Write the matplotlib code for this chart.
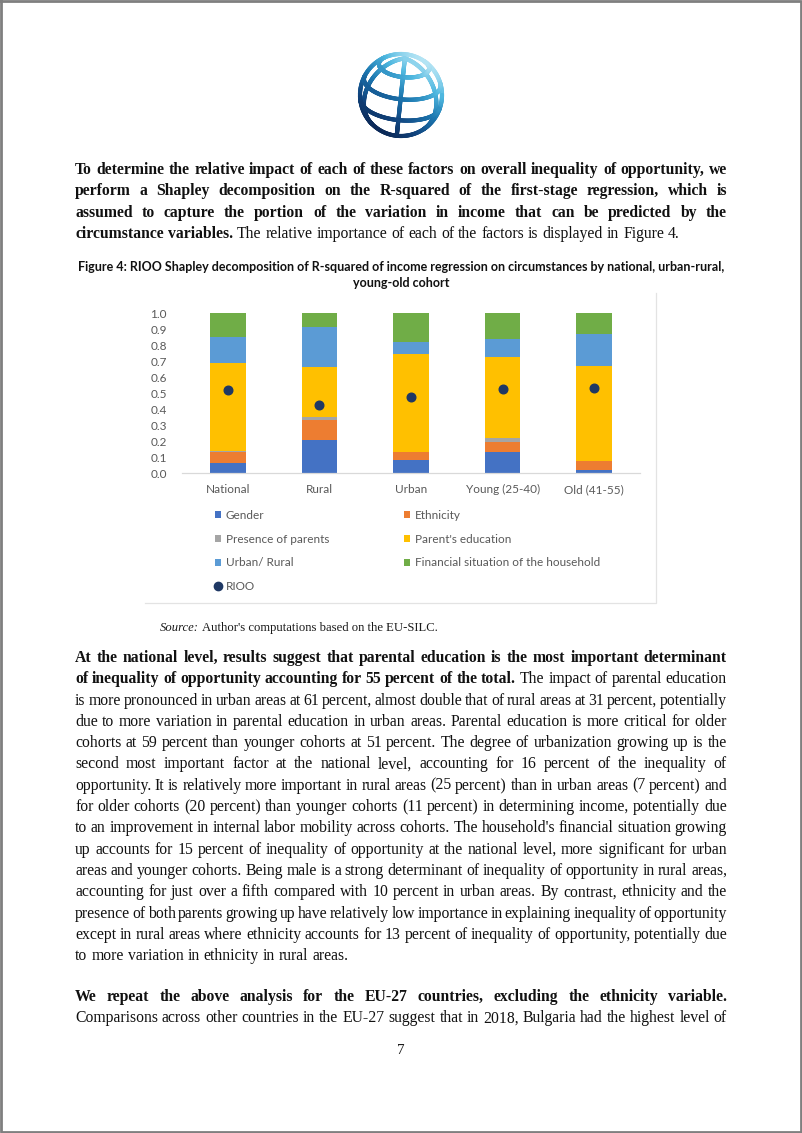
import matplotlib
matplotlib.use('Agg')
import matplotlib.pyplot as plt
import numpy as np
from matplotlib.patches import Patch
from matplotlib.lines import Line2D
from matplotlib.collections import LineCollection
from matplotlib.colors import LinearSegmentedColormap

# chart data (shares of R-squared)
categories = ['National', 'Rural', 'Urban', 'Young (25-40)', 'Old (41-55)']
gender = [0.067, 0.208, 0.083, 0.131, 0.021]
ethnicity = [0.064, 0.125, 0.048, 0.067, 0.054]
presence = [0.005, 0.016, 0.004, 0.022, 0.003]
parents_edu = [0.555, 0.312, 0.610, 0.508, 0.590]
urban_rural = [0.158, 0.254, 0.075, 0.110, 0.203]
financial = [0.151, 0.085, 0.180, 0.162, 0.129]
rioo = [0.520, 0.428, 0.474, 0.528, 0.532]
y_ticks = [0.0, 0.1, 0.2, 0.3, 0.4, 0.5, 0.6, 0.7, 0.8, 0.9, 1.0]

series_names = ['Gender', 'Ethnicity', 'Presence of parents', "Parent's education",
                'Urban/ Rural', 'Financial situation of the household']
series_colors = ['#4472C4', '#ED7D31', '#A5A5A5', '#FFC000', '#5B9BD5', '#70AD47']
rioo_color = '#1F3864'

# page text
para1 = [
    [("To determine the relative impact of each of these factors on overall inequality of opportunity, we", 'b')],
    [("perform a Shapley decomposition on the R-squared of the first-stage regression, which is", 'b')],
    [("assumed to capture the portion of the variation in income that can be predicted by the", 'b')],
    [("circumstance variables.", 'b'), ("The relative importance of each of the factors is displayed in Figure 4.", 'r')],
]
para2 = [
    [("At the national level, results suggest that parental education is the most important determinant", 'b')],
    [("of inequality of opportunity accounting for 55 percent of the total.", 'b'), ("The impact of parental education", 'r')],
    [("is more pronounced in urban areas at 61 percent, almost double that of rural areas at 31 percent, potentially", 'r')],
    [("due to more variation in parental education in urban areas. Parental education is more critical for older", 'r')],
    [("cohorts at 59 percent than younger cohorts at 51 percent. The degree of urbanization growing up is the", 'r')],
    [("second most important factor at the national level, accounting for 16 percent of the inequality of", 'r')],
    [("opportunity. It is relatively more important in rural areas (25 percent) than in urban areas (7 percent) and", 'r')],
    [("for older cohorts (20 percent) than younger cohorts (11 percent) in determining income, potentially due", 'r')],
    [("to an improvement in internal labor mobility across cohorts. The household's financial situation growing", 'r')],
    [("up accounts for 15 percent of inequality of opportunity at the national level, more significant for urban", 'r')],
    [("areas and younger cohorts. Being male is a strong determinant of inequality of opportunity in rural areas,", 'r')],
    [("accounting for just over a fifth compared with 10 percent in urban areas. By contrast, ethnicity and the", 'r')],
    [("presence of both parents growing up have relatively low importance in explaining inequality of opportunity", 'r')],
    [("except in rural areas where ethnicity accounts for 13 percent of inequality of opportunity, potentially due", 'r')],
    [("to more variation in ethnicity in rural areas.", 'r')],
]
para3 = [
    [("We repeat the above analysis for the EU-27 countries, excluding the ethnicity variable.", 'b')],
    [("Comparisons across other countries in the EU-27 suggest that in 2018, Bulgaria had the highest level of", 'r')],
]
fig_title = ["Figure 4: RIOO Shapley decomposition of R-squared of income regression on circumstances by national, urban-rural,",
             "young-old cohort"]

W, H = 802, 1133
fig = plt.figure(figsize=(W / 100, H / 100), dpi=100)
fig.patch.set_facecolor('white')
page = fig.add_axes([0, 0, 1, 1])
page.set_xlim(0, W)
page.set_ylim(H, 0)
page.axis('off')
renderer = fig.canvas.get_renderer()

SERIF = 'Liberation Serif'
SANS = 'Lato'
styles = {'b': dict(weight='bold'), 'r': {}, 'i': dict(style='italic')}


def text_width(s, **kw):
    t = page.text(0, 0, s, **kw)
    w = t.get_window_extent(renderer).width
    t.remove()
    return w


def draw_line(segments, y, size=11.3, justify=True, x0=75, x1=727):
    words = []
    for txt, st in segments:
        for w in txt.split():
            words.append((w, st))

    def kw(st):
        return dict(family=SERIF, fontsize=size, color='#111111', **styles[st])

    widths = [text_width(w, **kw(st)) for w, st in words]
    space = text_width('a a', **kw('r')) - text_width('aa', **kw('r'))
    if justify and len(words) > 1:
        gap = (x1 - x0 - sum(widths)) / (len(words) - 1)
    else:
        gap = space
    x = x0
    for (w, st), wd in zip(words, widths):
        page.text(x, y, w, ha='left', va='baseline', **kw(st))
        x += wd + gap


def draw_para(lines, y0, step=21.3, last_justified=False):
    for i, segs in enumerate(lines):
        last = (i == len(lines) - 1) and not last_justified
        draw_line(segs, y0 + i * step, justify=not last)


# page frame
page.plot([1, W - 1.5, W - 1.5, 1, 1], [1, 1, H - 1.5, H - 1.5, 1], color='#7f7f7f', lw=2)

# logo: tilted wire globe with gradient
cx, cy, R = 401, 95, 41
e, th = np.radians(26), np.radians(6)


def project(lat, lon):
    x = np.cos(lat) * np.sin(lon)
    y = np.sin(lat)
    z = np.cos(lat) * np.cos(lon)
    y1 = y * np.cos(e) - z * np.sin(e)
    z1 = y * np.sin(e) + z * np.cos(e)
    x2 = x * np.cos(th) + y1 * np.sin(th)
    y2 = -x * np.sin(th) + y1 * np.cos(th)
    return x2, y2, z1


curves = []
t = np.linspace(0, 2 * np.pi, 300)
curves.append((np.cos(t), np.sin(t), np.ones_like(t)))
for lon in [-62, 0, 62]:
    lat = np.radians(np.linspace(-90, 90, 200))
    curves.append(project(lat, np.full_like(lat, np.radians(lon))))
for lat in [52, 20, -12]:
    lon = np.radians(np.linspace(-180, 180, 300))
    curves.append(project(np.full_like(lon, np.radians(lat)), lon))

globe_cmap = LinearSegmentedColormap.from_list(
    'globe', ['#0a2450', '#114680', '#1c77b0', '#4fb8e0', '#c6ecf8'])
segs, vals = [], []
for x, y, z in curves:
    for i in range(len(x) - 1):
        if z[i] < -0.01 or z[i + 1] < -0.01:
            continue
        p0 = (cx + R * x[i], cy - R * y[i])
        p1 = (cx + R * x[i + 1], cy - R * y[i + 1])
        segs.append([p0, p1])
        xm, ym = (x[i] + x[i + 1]) / 2, (y[i] + y[i + 1]) / 2
        vals.append(np.clip((0.55 * xm + 0.85 * ym + 1.1) / 2.2, 0, 1))
lc = LineCollection(segs, colors=globe_cmap(np.array(vals)), linewidths=3.0, capstyle='round')
page.add_collection(lc)

# body text
draw_para(para1, 174)
for i, line in enumerate(fig_title):
    page.text(401, 267 + i * 16, line, ha='center', va='center', family=SANS,
              weight='bold', fontsize=9.0, color='#111111')

# source note
src_size = 9.1
page.text(160, 631, 'Source:', ha='left', va='baseline', family=SERIF, style='italic',
          fontsize=src_size, color='#1a1a1a')
sw = text_width('Source:', family=SERIF, style='italic', fontsize=src_size)
page.text(160 + sw + 3, 631, "Author's computations based on the EU-SILC.", ha='left', va='baseline',
          family=SERIF, fontsize=src_size, color='#1a1a1a')

draw_para(para2, 662)
draw_para(para3, 1001, last_justified=True)
page.text(401, 1054, '7', ha='center', va='baseline', family=SERIF, fontsize=11, color='#1a1a1a')

# chart area border (bottom and right only)
page.plot([145, 656, 656], [603, 603, 293], color='#e3e3e3', lw=0.9)

# chart
ax = fig.add_axes([182 / W, 1 - 473.3 / H, (640 - 182) / W, 160.3 / H])
ax.set_facecolor('none')
xpos = np.arange(len(categories))
bottom = np.zeros(len(categories))
all_series = [gender, ethnicity, presence, parents_edu, urban_rural, financial]
for vals_s, col in zip(all_series, series_colors):
    ax.bar(xpos, vals_s, width=0.39, bottom=bottom, color=col, edgecolor='none', zorder=2)
    bottom = bottom + np.array(vals_s)
ax.plot(xpos, rioo, ls='none', marker='o', markersize=6.2, color=rioo_color, zorder=3)

ax.set_xlim(-0.5, len(categories) - 0.5)
ax.set_ylim(0, 1.0)
ax.set_yticks(y_ticks)
ax.set_yticklabels([f'{v:.1f}' for v in y_ticks])
ax.set_xticks(xpos)
ax.set_xticklabels(categories)
ax.tick_params(axis='y', length=0, pad=11, labelsize=8.5, labelcolor='#595959')
ax.tick_params(axis='x', length=0, pad=8, labelsize=8.5, labelcolor='#595959')
for lab in ax.get_xticklabels() + ax.get_yticklabels():
    lab.set_family(SANS)
for s in ['top', 'right', 'left']:
    ax.spines[s].set_visible(False)
ax.spines['bottom'].set_color('#d9d9d9')
ax.spines['bottom'].set_linewidth(0.9)

handles = [Patch(facecolor=c, edgecolor='none', label=n) for c, n in zip(series_colors, series_names)]
rioo_handle = Line2D([], [], ls='none', marker='o', markersize=6, color=rioo_color, label='RIOO')
leg_kw = dict(loc='upper left', bbox_transform=fig.transFigure, frameon=False,
              prop={'family': SANS, 'size': 8.5}, labelcolor='#595959', labelspacing=1.08,
              handlelength=0.55, handleheight=0.55, handletextpad=0.35, borderpad=0, borderaxespad=0)
leg1 = ax.legend(handles=[handles[0], handles[2], handles[4], rioo_handle],
                 bbox_to_anchor=(215 / W, 1 - 510 / H), **leg_kw)
ax.add_artist(leg1)
ax.legend(handles=[handles[1], handles[3], handles[5]],
          bbox_to_anchor=(404 / W, 1 - 510 / H), **leg_kw)

fig.savefig('out.png', dpi=100, facecolor='white')
